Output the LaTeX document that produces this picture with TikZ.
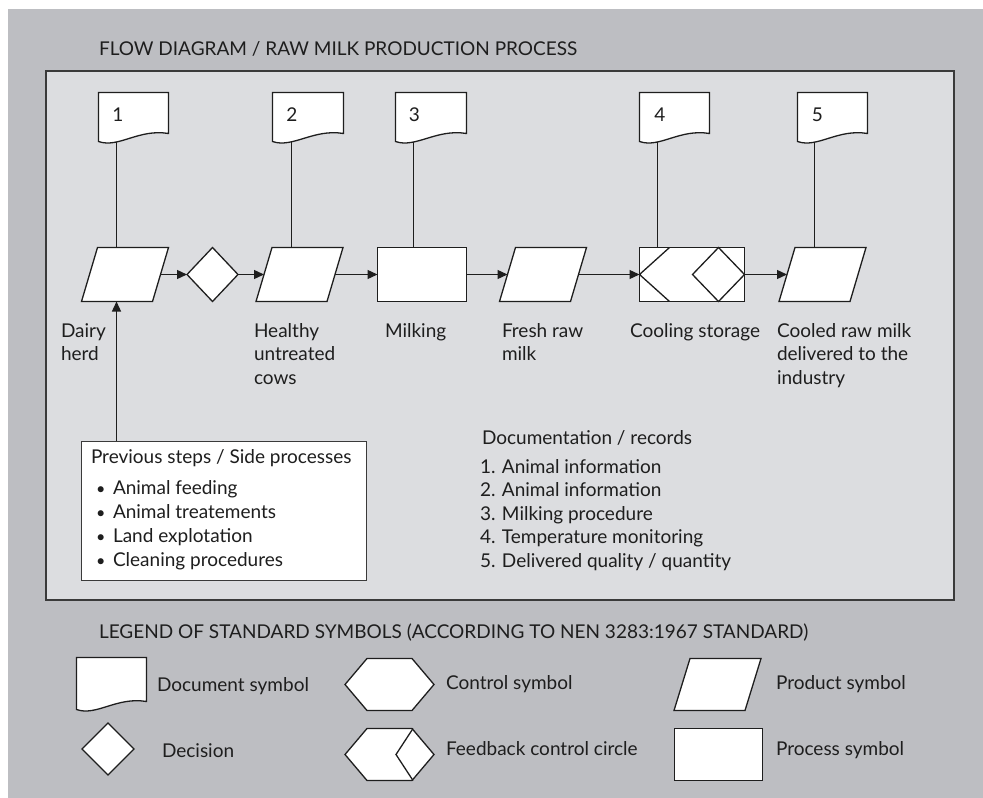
\documentclass[tikz,border=0pt]{standalone}
\usepackage{fontspec}
\setmainfont{Lato}
\usetikzlibrary{arrows.meta,calc,shapes.geometric}
\pgfdeclarelayer{back}
\pgfdeclarelayer{edges}
\pgfdeclarelayer{shapes}
\pgfsetlayers{back,edges,shapes,main}
\definecolor{outerbg}{HTML}{BDBEC2}
\definecolor{panelbg}{HTML}{DCDDE0}
\definecolor{ink}{HTML}{1E1E1E}
\definecolor{frame}{HTML}{3A3A3A}

% parallelogram (product) drawn around a holder node
\newcommand\prodpath[1]{\path[sym] ($(#1.north west)+(8,0)$) -- ($(#1.north east)+(8,0)$) -- ($(#1.south east)+(-8,0)$) -- ($(#1.south west)+(-8,0)$) -- cycle;}
% plain process box
\newcommand\boxpath[1]{\path[sym] (#1.north west) rectangle (#1.south east);}
% document symbol with a wavy lower edge
\newcommand\docpath[1]{\path[sym] ($(#1.south west)+(0,8)$) -- (#1.north west) -- (#1.north east) -- (#1.south east) .. controls +(-30,-5) and +(20,7) .. ($(#1.south west)+(0,8)$) -- cycle;}
% control symbol (elongated hexagon)
\newcommand\hexpath[1]{\path[sym] (#1.west) -- ($(#1.north west)+(22,0)$) -- ($(#1.north east)+(-22,0)$) -- (#1.east) -- ($(#1.south east)+(-22,0)$) -- ($(#1.south west)+(22,0)$) -- cycle;}
% bullet item for the side-process list
\newcommand\itm[1]{\makebox[22pt][r]{\scalebox{0.85}{\textbullet}\hspace{7.5pt}}#1}

\begin{document}
\begin{tikzpicture}[x=1pt,y=-1pt,
  every node/.style={inner sep=0pt, outer sep=0pt, text=ink},
  txt/.style={font=\fontsize{19}{23.5}\selectfont, align=left},
  sym/.style={draw=ink, line width=1.3pt, fill=white, line join=miter},
  hold/.style={inner sep=0pt, minimum height=54pt},
  link/.style={draw=ink, line width=1.3pt},
  flow/.style={link, -{Triangle[length=10pt,width=9pt]}},
]
\useasboundingbox (0,0) rectangle (983,798);
\begin{pgfonlayer}{back}
  \fill[white] (0,0) rectangle (983,798);
  \fill[outerbg] (8,9) rectangle (983,798);
  \draw[frame, line width=2pt, fill=panelbg] (46,71) rectangle (954,600);
\end{pgfonlayer}

\node[txt, anchor=base west] (title) at (99,55) {FLOW DIAGRAM / RAW MILK PRODUCTION PROCESS};

% ---- main process line ----
\node[hold, minimum width=71pt] (p1) at (125,274.5) {};
\node[hold, diamond, minimum width=51pt, minimum height=54pt] (dec) at (212.5,274.5) {};
\node[hold, minimum width=71pt] (p2) at (299.5,274.5) {};
\node[hold, minimum width=89pt] (milk) at (422,274.5) {};
\node[hold, minimum width=71pt] (p3) at (543,274.5) {};
\node[hold, minimum width=105pt] (cool) at (692,274.5) {};
\node[hold, minimum width=71pt] (p5) at (822.5,274.5) {};

% ---- documents ----
\node[hold, minimum width=70pt, minimum height=41pt] (doc1) at (133.5,113) {};
\node[hold, minimum width=71pt, minimum height=41pt] (doc2) at (308,113) {};
\node[hold, minimum width=71pt, minimum height=41pt] (doc3) at (431,113) {};
\node[hold, minimum width=70pt, minimum height=41pt] (doc4) at (674.5,113) {};
\node[hold, minimum width=70pt, minimum height=41pt] (doc5) at (832.5,113) {};
\node[txt, anchor=base] (n1) at (118,121) {1};
\node[txt, anchor=base] (n2) at (292,121) {2};
\node[txt, anchor=base] (n3) at (414.5,121) {3};
\node[txt, anchor=base] (n4) at (660,121) {4};
\node[txt, anchor=base] (n5) at (817.5,121) {5};

% ---- side processes ----
\node[hold, minimum width=285pt, minimum height=139pt] (side) at (224,511) {};
\node[txt, anchor=north west, font=\fontsize{19}{24}\selectfont] (sidetxt) at (91,447)
  {\rule{0pt}{16pt}Previous steps / Side processes\\[7pt]
   \itm{Animal feeding}\\
   \itm{Animal treatements}\\
   \itm{Land explotation}\\
   \itm{Cleaning procedures}};

% ---- labels under the process line ----
\node[txt, anchor=north west] (l1) at (61,321) {\rule{0pt}{16pt}Dairy\\herd};
\node[txt, anchor=north west] (l2) at (254,321) {\rule{0pt}{16pt}Healthy\\untreated\\cows};
\node[txt, anchor=north west] (l3) at (385,321) {\rule{0pt}{16pt}Milking};
\node[txt, anchor=north west] (l4) at (502,321) {\rule{0pt}{16pt}Fresh raw\\milk};
\node[txt, anchor=north west] (l5) at (630,321) {\rule{0pt}{16pt}Cooling storage};
\node[txt, anchor=north west] (l6) at (777,321) {\rule{0pt}{16pt}Cooled raw milk\\delivered to the\\industry};

% ---- documentation list ----
\node[txt, anchor=base west] (dochead) at (482,444) {Documentation / records};
\node[txt, anchor=north west] (doclist) at (480,457)
  {\rule{0pt}{16pt}1. Animal information\\2. Animal information\\3. Milking procedure\\4. Temperature monitoring\\5. Delivered quality / quantity};

% ---- legend ----
\node[txt, anchor=base west] (legtitle) at (99,638) {LEGEND OF STANDARD SYMBOLS (ACCORDING TO NEN 3283:1967 STANDARD)};
\node[hold, minimum width=70pt, minimum height=44pt] (ldoc) at (111.5,679.5) {};
\node[hold, diamond, minimum width=52pt, minimum height=52pt] (ldec) at (108,749) {};
\node[hold, minimum width=89pt, minimum height=52pt] (lctl) at (389.5,684.5) {};
\node[hold, minimum width=89pt, minimum height=52pt] (lfb) at (389.5,754.5) {};
\node[hold, minimum width=71pt, minimum height=52pt] (lprod) at (717.5,684.5) {};
\node[hold, minimum width=88pt, minimum height=52pt] (lproc) at (718.5,754.5) {};
\node[txt, anchor=base west] (tdoc) at (157,691) {Document symbol};
\node[txt, anchor=base west] (tdec) at (162,757) {Decision};
\node[txt, anchor=base west] (tctl) at (446,689) {Control symbol};
\node[txt, anchor=base west] (tfb) at (446,755) {Feedback control circle};
\node[txt, anchor=base west] (tprod) at (776,689) {Product symbol};
\node[txt, anchor=base west] (tproc) at (776,755) {Process symbol};

% ---- symbol outlines ----
\begin{pgfonlayer}{shapes}
  \prodpath{p1}\prodpath{p2}\prodpath{p3}\prodpath{p5}\prodpath{lprod}
  \boxpath{milk}\boxpath{cool}\boxpath{lproc}
  \path[sym, draw=frame, line width=1pt] (side.north west) rectangle (side.south east);
  \path[sym] (dec.north) -- (dec.east) -- (dec.south) -- (dec.west) -- cycle;
  \path[sym] (ldec.north) -- (ldec.east) -- (ldec.south) -- (ldec.west) -- cycle;
  \draw[link] ($(cool.north west)+(30,0)$) -- (cool.west) -- ($(cool.south west)+(30,0)$);
  \draw[link] (cool.east) -- ($(cool.north east)+(-26,0)$) -- ($(cool.east)+(-52,0)$) -- ($(cool.south east)+(-26,0)$) -- cycle;
  \docpath{doc1}\docpath{doc2}\docpath{doc3}\docpath{doc4}\docpath{doc5}\docpath{ldoc}
  \hexpath{lctl}\hexpath{lfb}
  \draw[link] ($(lfb.north east)+(-21,0)$) -- ($(lfb.east)+(-38,0)$) -- ($(lfb.south east)+(-21,0)$);
\end{pgfonlayer}

% ---- connectors ----
\begin{pgfonlayer}{edges}
  \coordinate (c1) at ($(doc1.south west)+(18,0)$);
  \coordinate (c2) at ($(doc2.south west)+(19,0)$);
  \coordinate (c3) at ($(doc3.south west)+(18,0)$);
  \coordinate (c4) at ($(doc4.south west)+(18,0)$);
  \coordinate (c5) at ($(doc5.south west)+(17,0)$);
  \draw[link] (c1) -- (c1 |- p1.north);
  \draw[link] (c2) -- (c2 |- p2.north);
  \draw[link] (c3) -- (c3 |- milk.north);
  \draw[link] (c4) -- (c4 |- cool.north);
  \draw[link] (c5) -- (c5 |- p5.north);
  \draw[flow] (p1.east) -- (dec.west);
  \draw[flow] (dec.east) -- (p2.west);
  \draw[flow] (p2.east) -- (milk.west);
  \draw[flow] (milk.east) -- (p3.west);
  \draw[flow] (p3.east) -- (cool.west);
  \draw[flow] (cool.east) -- (p5.west);
  \coordinate (up) at (c1 |- side.north);
  \draw[flow] (up) -- (up |- p1.south);
\end{pgfonlayer}
\end{tikzpicture}
\end{document}
